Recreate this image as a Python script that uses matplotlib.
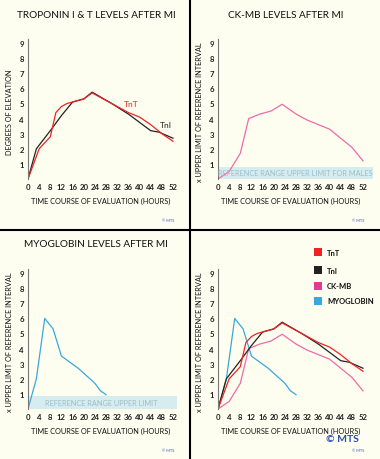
import matplotlib
matplotlib.use("Agg")
import matplotlib.pyplot as plt
from matplotlib.lines import Line2D
from matplotlib.patches import Rectangle

# data (hours, x upper limit)
tnt_h = [0, 4, 8, 10, 12, 14, 16, 20, 23, 28, 32, 36, 40, 44, 48, 52]
tnt_v = [0, 2.0, 2.8, 4.4, 4.8, 5.0, 5.1, 5.3, 5.7, 5.2, 4.8, 4.4, 4.1, 3.6, 3.0, 2.5]

tni_h = [0, 3, 8, 12, 16, 20, 23, 30, 36, 44, 47, 52]
tni_v = [0, 2.0, 3.2, 4.2, 5.1, 5.3, 5.75, 5.0, 4.3, 3.2, 3.1, 2.7]

ckmb_h = [0, 4, 8, 11, 15, 19, 23, 28, 32, 40, 44, 48, 52]
ckmb_v = [0, 0.5, 1.7, 4.0, 4.3, 4.5, 4.95, 4.3, 3.9, 3.3, 2.7, 2.1, 1.2]

myo_h = [0, 3, 6, 9, 12, 18, 24, 26, 28]
myo_v = [0, 2.0, 6.0, 5.3, 3.5, 2.7, 1.7, 1.2, 0.95]

xticks = list(range(0, 53, 4))
yticks = list(range(1, 10))

BG = "#fdfdf0"
RED = "#ee2424"
BLACK = "#222222"
PINK = "#f06aa8"
PINK_LEG = "#e8378f"
BLUE = "#3aa8dc"
BAND = "#d6ecef"
BAND_TXT = "#9dbfca"
FONT = "Lato"

W, H = 380, 460
fig = plt.figure(figsize=(3.8, 4.6), dpi=100)
fig.patch.set_facecolor(BG)


def make_ax(ox, oy):
    l, r, t, b = ox + 28, ox + 28 + 145 * 56 / 52, oy + 40, oy + 180
    ax = fig.add_axes([l / W, 1 - b / H, (r - l) / W, (b - t) / H])
    ax.set_facecolor(BG)
    ax.set_xlim(0, 56)
    ax.set_ylim(0, 9.27)
    for s in ["top", "right", "bottom"]:
        ax.spines[s].set_visible(False)
    ax.spines["left"].set_color("#777777")
    ax.spines["left"].set_linewidth(0.8)
    ax.set_xticks(xticks)
    ax.set_yticks(yticks)
    ax.tick_params(length=0, labelsize=5.6, pad=3, labelcolor="#222222")
    for lab in ax.get_xticklabels() + ax.get_yticklabels():
        lab.set_fontfamily(FONT)
        lab.set_fontweight("bold")
    return ax


def panel_text(ox, oy, title, ylabel):
    fig.text((ox + 96) / W, 1 - (oy + 15) / H, title, ha="center", va="center",
             fontsize=7.2, family=FONT, color="#111111")
    fig.text((ox + 101) / W, 1 - (oy + 201) / H, "TIME COURSE OF EVALUATION (HOURS)",
             ha="center", va="center", fontsize=5.3, family=FONT, color="#111111")
    fig.text((ox + 10) / W, 1 - (oy + 112) / H, ylabel, ha="center", va="center",
             rotation=90, fontsize=5.3, family=FONT, color="#111111")
    fig.text((ox + 168) / W, 1 - (oy + 221) / H, "\u00a9 MTS", ha="center", va="center",
             fontsize=2.8, family=FONT, color="#3a55b0")


YL = "x UPPER LIMIT OF REFERENCE INTERVAL"

# troponin
ax1 = make_ax(0, 0)
ax1.plot(tni_h, tni_v, color=BLACK, lw=0.9)
ax1.plot(tnt_h, tnt_v, color=RED, lw=0.9)
ax1.text(37, 5.0, "TnT", color=RED, fontsize=6, family=FONT,
         ha="center", va="center")
ax1.text(49.5, 3.6, "TnI", color=BLACK, fontsize=6, family=FONT,
         ha="center", va="center")
panel_text(0, 0, "TROPONIN I & T LEVELS AFTER MI", "DEGREES OF ELEVATION")

# ck-mb
ax2 = make_ax(190, 0)
ax2.add_patch(Rectangle((0, 0), 55.6, 0.78, color=BAND, lw=0))
ax2.text(27.8, 0.4, "REFERENCE RANGE UPPER LIMIT FOR MALES", color=BAND_TXT,
         fontsize=5.3, family=FONT, ha="center", va="center")
ax2.plot(ckmb_h, ckmb_v, color=PINK, lw=0.9)
panel_text(190, 0, "CK-MB LEVELS AFTER MI", YL)

# myoglobin
ax3 = make_ax(0, 230)
ax3.add_patch(Rectangle((0, 0), 53.4, 0.85, color=BAND, lw=0))
ax3.text(26.2, 0.4, "REFERENCE RANGE UPPER LIMIT", color=BAND_TXT,
         fontsize=5.3, family=FONT, ha="center", va="center")
ax3.plot(myo_h, myo_v, color=BLUE, lw=0.9)
panel_text(0, 230, "MYOGLOBIN LEVELS AFTER MI", YL)

# combined
ax4 = make_ax(190, 230)
ax4.plot(myo_h, myo_v, color=BLUE, lw=0.9)
ax4.plot(ckmb_h, ckmb_v, color=PINK, lw=0.9)
ax4.plot(tni_h, tni_v, color=BLACK, lw=0.9)
ax4.plot(tnt_h, tnt_v, color=RED, lw=0.9)
panel_text(190, 230, "", YL)
fig.text(342 / W, 1 - 440 / H, "\u00a9 MTS", ha="center", va="center",
         fontsize=7.5, family=FONT, fontweight="bold", color="#2c4bb0")

legend_items = [("TnT", RED), ("TnI", BLACK), ("CK-MB", PINK_LEG), ("MYOGLOBIN", BLUE)]
for i, (name, col) in enumerate(legend_items):
    yc = [253, 271, 287, 302][i]
    fig.add_artist(Rectangle(((318 - 4) / W, 1 - (yc + 4) / H), 8 / W, 8 / H,
                             transform=fig.transFigure, color=col, lw=0))
    fig.text(327 / W, 1 - yc / H, name, ha="left", va="center", fontsize=5.5,
             family=FONT, fontweight="bold", color="#111111")

# panel separators
fig.add_artist(Line2D([190.5 / W, 190.5 / W], [0, 1], color="black", lw=1.5,
                      transform=fig.transFigure))
fig.add_artist(Line2D([0, 1], [1 - 230.5 / H, 1 - 230.5 / H], color="black", lw=1.5,
                      transform=fig.transFigure))

fig.savefig("out.png", dpi=100, facecolor=BG)
